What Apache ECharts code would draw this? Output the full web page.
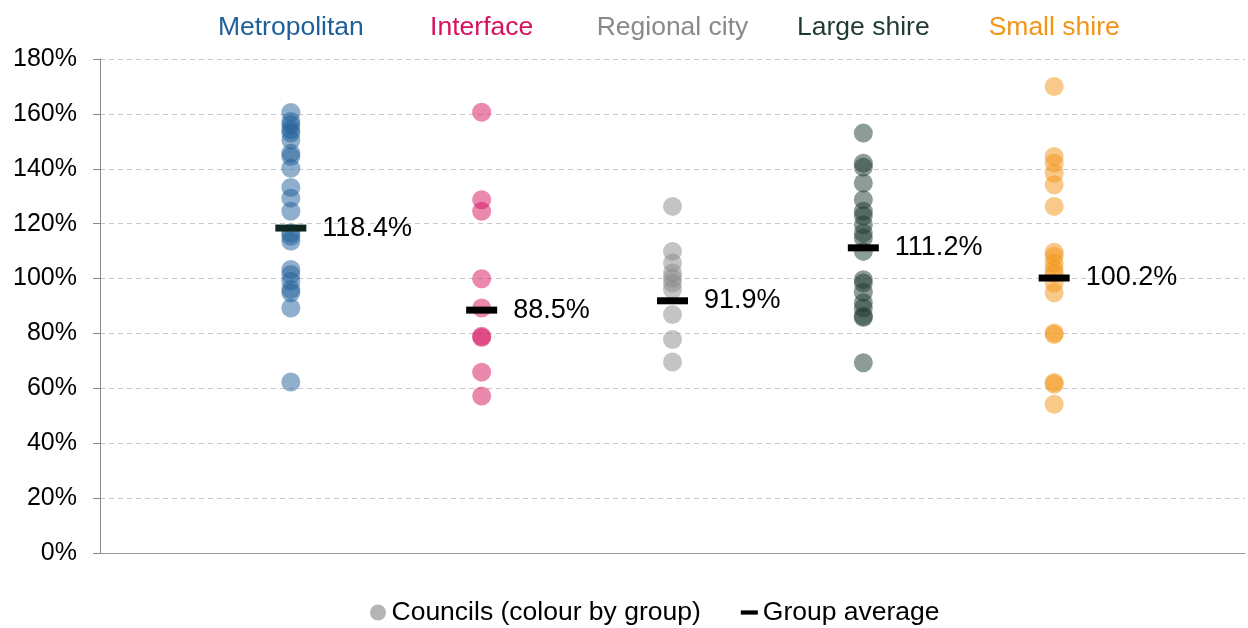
<!DOCTYPE html>
<html lang="en">
<head>
    <meta charset="UTF-8">
    <title>Councils by group</title>
    <style>
        html, body { margin: 0; padding: 0; background: #fff; }
        .main { width: 1248px; height: 628px; }
    </style>
</head>
<body>
<div class="main"></div>
<script src="https://cdn.jsdelivr.net/npm/echarts@6/dist/echarts.min.js"></script>
<script>
    // groups, left to right
    var groups = ['Metropolitan', 'Interface', 'Regional city', 'Large shire', 'Small shire'];
    var groupColours = ['#1f5f99', '#d6115e', '#8a8a8a', '#1e3a32', '#f39416'];

    // council values (%)
    var metropolitan = [160.5, 157.2, 156, 154.2, 153, 150.5, 145.7, 144.5, 140.2, 133.2, 129.3, 124.5,
        116.6, 115.4, 113.6, 103.3, 101.5, 99, 96, 94.8, 89.3, 62.3];
    var interfaceCouncils = [160.6, 128.7, 124.5, 99.9, 89.3, 79, 78.5, 65.9, 57.2];
    var regionalCity = [126.3, 109.9, 105.7, 102, 100.2, 98.4, 96, 86.9, 77.8, 69.6];
    var largeShire = [153, 142, 140.6, 134.8, 128.7, 124.5, 122.9, 119.6, 116.6, 114.8, 109.9,
        99.6, 98.4, 95, 91.2, 89.3, 86.3, 85.8, 69.3];
    var smallShire = [170, 144.5, 142, 138.4, 134.2, 126.3, 109.6, 108.1, 105.7, 103.3, 101.8,
        98.4, 94.8, 80.2, 79.6, 62.1, 61.5, 54.2];

    var groupValues = [metropolitan, interfaceCouncils, regionalCity, largeShire, smallShire];
    var groupAverages = [118.4, 88.5, 91.9, 111.2, 100.2];

    var FONT = '"Liberation Sans", Arial, sans-serif';

    var myChart = echarts.init(document.getElementsByClassName('main')[0]);

    // rich styles for the coloured group names on top
    var rich = {};
    groups.forEach(function (g, i) {
        rich['g' + i] = { color: groupColours[i], fontSize: 26.5, fontFamily: FONT };
    });

    var series = [];
    groupValues.forEach(function (vals, i) {
        series.push({
            name: 'Councils (colour by group)',
            type: 'scatter',
            xAxisIndex: 0,
            symbol: 'circle',
            symbolSize: 19,
            itemStyle: { color: groupColours[i], opacity: 0.5 },
            emphasis: { disabled: true },
            data: vals.map(function (v) { return [i + 1, v]; })
        });
    });

    series.push({
        name: 'Group average',
        type: 'scatter',
        xAxisIndex: 0,
        symbol: 'rect',
        symbolSize: [31, 7],
        z: 5,
        itemStyle: { color: '#000', opacity: 1 },
        label: {
            show: true,
            position: 'right',
            distance: 16,
            fontSize: 27,
            fontFamily: FONT,
            color: '#000',
            formatter: function (p) { return p.value[1].toFixed(1) + '%'; }
        },
        data: groupAverages.map(function (v, i) {
            // the metropolitan marker looks a little green-black in the original
            return i === 0 ? { value: [i + 1, v], itemStyle: { color: '#0f2720' } } : [i + 1, v];
        })
    });

    var option = {
        animation: false,
        textStyle: { fontFamily: FONT },
        grid: { left: 100, width: 1150, top: 59, bottom: 75 },
        legend: {
            top: 594,
            left: 365,
            itemGap: 40,
            itemWidth: 17,
            itemHeight: 16,
            itemTextGap: 4,
            textStyle: { fontSize: 26.5, color: '#000', fontFamily: FONT },
            data: [
                { name: 'Councils (colour by group)', icon: 'circle', itemStyle: { color: '#b4b4b4', opacity: 1 } },
                { name: 'Group average', icon: 'path://M0,0H20V5H0Z', itemStyle: { color: '#000', opacity: 1 } }
            ]
        },
        xAxis: [
            {
                type: 'value', min: 0, max: 6, interval: 1, position: 'bottom',
                axisLine: { show: true, lineStyle: { color: '#999', width: 1 } },
                axisTick: { show: false },
                axisLabel: { show: false },
                splitLine: { show: false }
            },
            {
                type: 'value', min: 0, max: 6, interval: 1, position: 'top',
                axisLine: { show: false },
                axisTick: { show: false },
                splitLine: { show: false },
                axisLabel: {
                    margin: 18,
                    rich: rich,
                    formatter: function (v) {
                        return (v >= 1 && v <= 5) ? '{g' + (v - 1) + '|' + groups[v - 1] + '}' : '';
                    }
                }
            }
        ],
        yAxis: {
            type: 'value', min: 0, max: 180, interval: 20,
            axisLine: { show: true, lineStyle: { color: '#888' } },
            axisTick: { show: true, length: 7, lineStyle: { color: '#888' } },
            axisLabel: {
                margin: 23,
                fontSize: 25,
                color: '#000',
                fontFamily: FONT,
                formatter: '{value}%'
            },
            splitLine: { show: true, lineStyle: { color: '#c8c8c8', type: [5, 4] } }
        },
        series: series
    };

    myChart.setOption(option);
</script>
</body>
</html>
